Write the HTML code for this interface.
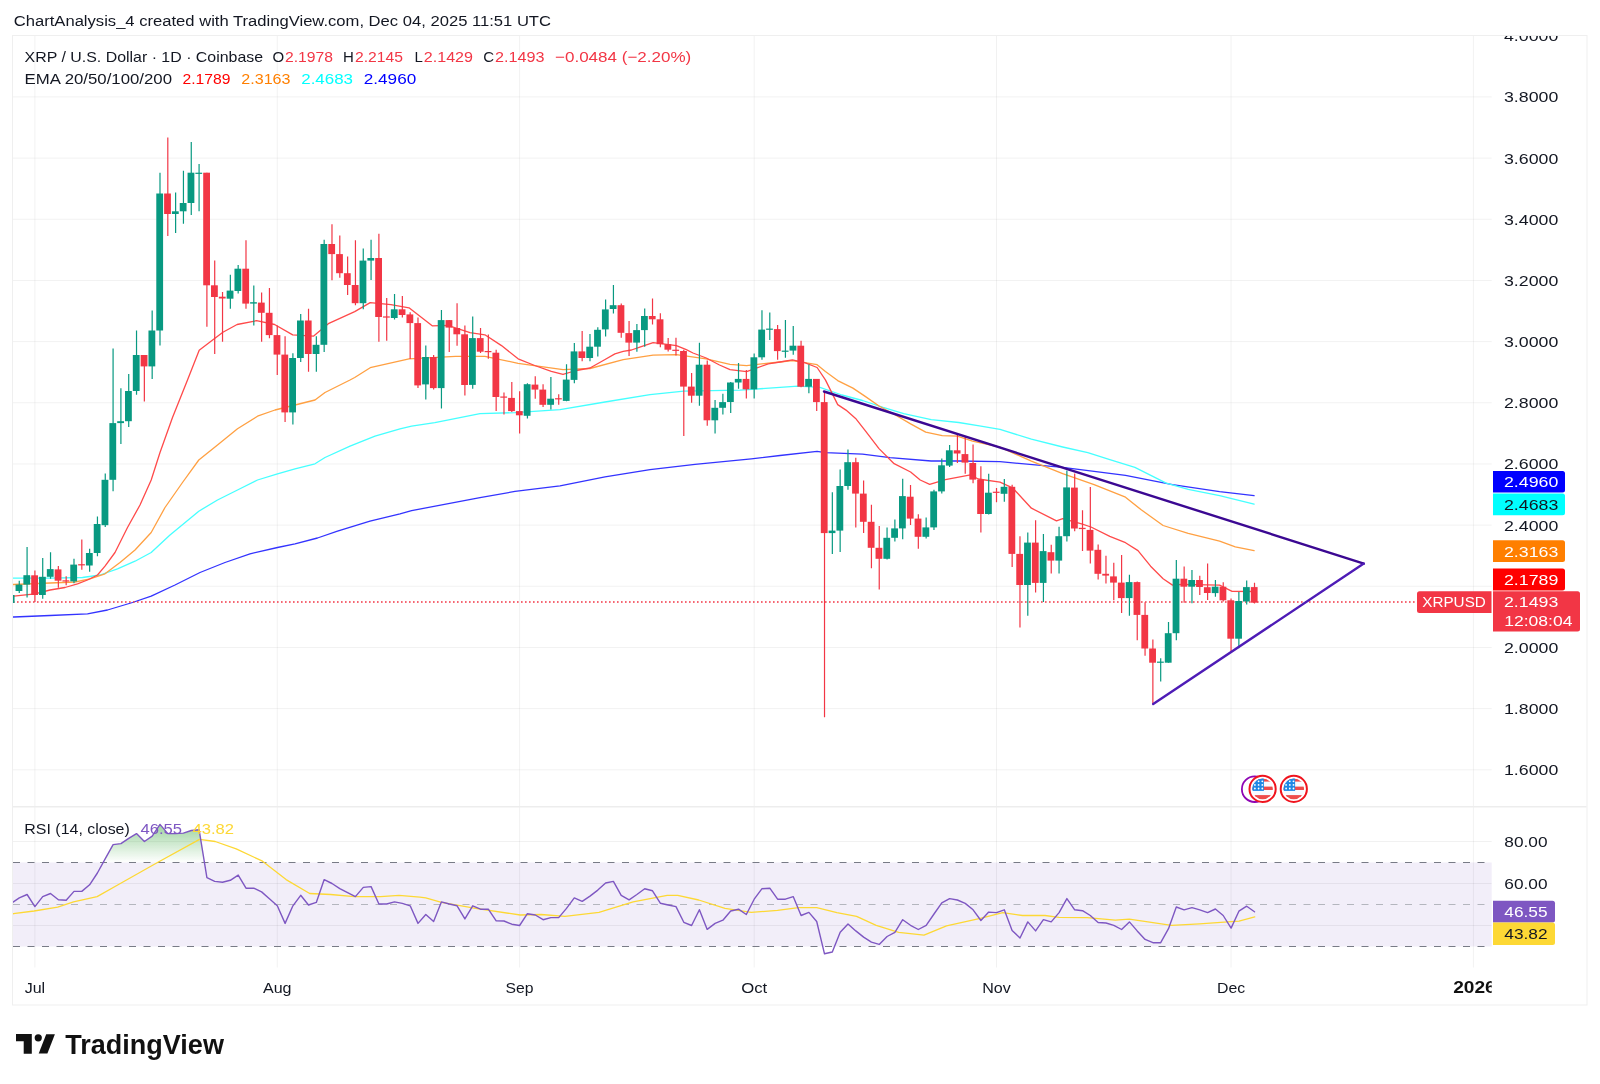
<!DOCTYPE html><html><head><meta charset="utf-8"><style>html,body{margin:0;padding:0;background:#fff;width:1600px;height:1084px;overflow:hidden}svg{display:block;font-family:"Liberation Sans",sans-serif;will-change:transform}</style></head><body>
<svg width="1600" height="1084" viewBox="0 0 1600 1084">
<defs>
<clipPath id="plot"><rect x="13" y="36" width="1478.7" height="770.7"/></clipPath>
<clipPath id="rsiclip"><rect x="13" y="806.7" width="1478.7" height="160.79999999999995"/></clipPath>
<clipPath id="axisclip"><rect x="1491.7" y="36" width="94.79999999999995" height="770.7"/></clipPath>
<clipPath id="timeclip"><rect x="13" y="967.5" width="1478.7" height="37.0"/></clipPath>
<clipPath id="ob"><rect x="13" y="806.7" width="1478.7" height="55.799999999999955"/></clipPath>
<linearGradient id="gfill" gradientUnits="userSpaceOnUse" x1="0" y1="824" x2="0" y2="862.5"><stop offset="0" stop-color="#4CAF50" stop-opacity="0.55"/><stop offset="1" stop-color="#4CAF50" stop-opacity="0"/></linearGradient>
</defs>
<text x="13.75" y="26.25" font-size="15.5" fill="#131722" text-anchor="start" font-weight="normal" textLength="537.25" lengthAdjust="spacingAndGlyphs" >ChartAnalysis_4 created with TradingView.com, Dec 04, 2025 11:51 UTC</text>
<rect x="12.5" y="35.5" width="1574.5" height="969.5" fill="none" stroke="#EFEFEF" stroke-width="1"/>
<rect x="13" y="862.50" width="1478.7" height="84.00" fill="#F2EEF9"/>
<g stroke="#000" stroke-opacity="0.055" stroke-width="1"><line x1="13" y1="769.80" x2="1491.7" y2="769.80"/><line x1="13" y1="708.63" x2="1491.7" y2="708.63"/><line x1="13" y1="647.46" x2="1491.7" y2="647.46"/><line x1="13" y1="586.29" x2="1491.7" y2="586.29"/><line x1="13" y1="525.12" x2="1491.7" y2="525.12"/><line x1="13" y1="463.95" x2="1491.7" y2="463.95"/><line x1="13" y1="402.78" x2="1491.7" y2="402.78"/><line x1="13" y1="341.61" x2="1491.7" y2="341.61"/><line x1="13" y1="280.44" x2="1491.7" y2="280.44"/><line x1="13" y1="219.27" x2="1491.7" y2="219.27"/><line x1="13" y1="158.10" x2="1491.7" y2="158.10"/><line x1="13" y1="96.93" x2="1491.7" y2="96.93"/><line x1="34.90" y1="36" x2="34.90" y2="967.5"/><line x1="277.26" y1="36" x2="277.26" y2="967.5"/><line x1="519.62" y1="36" x2="519.62" y2="967.5"/><line x1="754.16" y1="36" x2="754.16" y2="967.5"/><line x1="996.51" y1="36" x2="996.51" y2="967.5"/><line x1="1231.05" y1="36" x2="1231.05" y2="967.5"/><line x1="1473.41" y1="36" x2="1473.41" y2="967.5"/><line x1="13" y1="841.50" x2="1491.7" y2="841.50"/><line x1="13" y1="883.50" x2="1491.7" y2="883.50"/><line x1="13" y1="925.50" x2="1491.7" y2="925.50"/></g>
<line x1="13" y1="806.7" x2="1586.5" y2="806.7" stroke="#EDEDED" stroke-width="1.5"/>
<g clip-path="url(#plot)">
<polyline points="13.0,617.0 13.8,617.0 50.0,615.5 87.5,613.8 107.5,610.0 132.5,602.5 151.2,596.2 175.0,585.0 200.0,572.5 225.0,562.5 250.0,553.8 277.5,547.5 295.0,543.8 317.5,538.0 337.5,531.2 370.0,521.2 400.0,513.8 411.6,510.6 480.0,497.7 515.0,491.4 560.0,485.8 605.0,476.8 650.0,469.6 695.0,464.4 751.3,458.8 780.0,455.5 817.1,451.4 825.4,452.7 862.5,454.1 890.0,457.6 931.2,461.0 958.7,461.0 1000.0,461.7 1062.7,467.4 1125.5,475.3 1172.5,484.7 1219.6,491.6 1254.1,495.7" fill="none" stroke="#3333FF" stroke-width="1.3" stroke-linejoin="round" stroke-linecap="round"/>
<polyline points="13.0,578.2 13.8,578.2 50.0,578.2 82.5,577.5 100.0,575.0 117.5,568.8 135.0,561.2 151.2,552.5 170.0,535.0 198.8,511.2 217.5,500.0 237.5,490.0 257.5,480.0 277.5,473.8 295.0,468.8 315.0,463.8 325.0,457.5 350.0,446.2 375.0,436.2 400.0,428.8 411.6,426.1 434.8,422.7 480.0,413.7 515.0,412.6 560.0,409.7 605.0,402.0 650.0,394.6 683.8,391.2 740.0,390.1 780.0,387.4 797.9,386.1 819.9,387.4 841.9,395.0 862.5,400.5 883.1,407.4 903.7,413.6 931.2,419.7 958.7,422.5 979.4,425.9 1000.0,429.4 1031.4,439.2 1062.7,447.0 1087.8,452.7 1109.8,459.6 1134.9,467.4 1166.2,483.1 1188.2,489.4 1219.6,495.7 1254.1,504.1" fill="none" stroke="#45FFFF" stroke-width="1.3" stroke-linejoin="round" stroke-linecap="round"/>
<polyline points="13.0,584.5 13.8,584.5 50.0,583.0 75.0,582.0 90.0,578.8 105.0,573.8 120.0,562.5 135.0,550.0 151.2,532.5 165.0,507.5 182.5,482.5 198.8,460.0 217.5,445.0 237.5,428.8 257.5,416.2 275.0,410.0 295.0,405.0 315.0,400.0 325.0,392.5 350.0,380.0 354.7,377.5 370.2,367.7 409.0,358.9 455.5,356.3 484.9,356.4 518.1,363.3 563.0,369.6 590.0,368.5 623.2,359.7 653.1,355.2 676.4,354.7 706.2,358.8 730.0,364.3 746.6,365.6 768.2,363.1 780.0,362.0 792.4,360.6 804.7,362.7 817.1,364.7 825.4,371.6 837.7,380.6 852.9,388.1 865.2,396.4 879.0,406.0 894.1,414.2 910.6,423.9 925.7,432.1 942.2,435.6 957.4,436.2 972.5,441.1 1000.0,447.2 1031.4,461.2 1062.7,473.7 1094.1,484.7 1125.5,497.2 1141.2,509.8 1163.1,525.5 1188.2,533.3 1219.6,541.2 1235.3,546.8 1254.1,550.6" fill="none" stroke="#FFA042" stroke-width="1.3" stroke-linejoin="round" stroke-linecap="round"/>
<polyline points="13.0,596.2 13.8,596.2 35.0,593.8 50.0,590.0 65.0,587.5 77.5,583.8 87.5,580.0 97.5,575.0 105.0,566.2 115.0,552.5 127.5,527.5 140.0,505.0 151.2,480.0 160.0,452.5 172.5,417.5 187.5,380.0 199.2,350.2 210.0,341.9 222.9,332.3 237.1,324.5 256.5,320.7 274.6,324.5 292.7,334.9 313.4,336.2 328.9,323.3 354.7,311.6 370.2,302.6 390.9,304.7 409.0,307.8 432.2,325.8 447.7,325.3 470.0,332.6 484.9,334.8 501.5,345.6 518.1,358.8 534.7,365.5 551.3,371.3 563.0,374.3 576.2,370.5 590.0,368.0 603.3,360.5 614.9,353.9 623.2,351.4 631.5,350.0 639.8,347.2 653.1,342.7 663.1,343.9 676.4,345.6 686.3,349.7 693.0,353.0 706.2,358.0 719.5,365.0 730.0,369.6 746.6,371.7 768.2,363.9 780.0,362.0 792.4,359.9 804.7,362.7 817.1,367.5 825.4,379.9 837.7,404.6 846.0,410.1 855.6,418.4 865.2,430.7 879.0,448.6 894.1,463.7 910.6,472.0 920.2,480.0 929.7,484.3 945.4,479.6 970.5,474.9 978.2,479.0 1000.0,482.2 1012.5,487.8 1031.4,508.2 1056.5,520.8 1062.7,518.6 1081.6,523.9 1091.0,527.0 1109.8,536.4 1125.5,542.7 1138.0,550.6 1150.6,566.2 1163.1,578.8 1172.5,585.1 1181.9,584.4 1219.6,585.1 1232.1,591.3 1254.1,591.5" fill="none" stroke="#FF4A4A" stroke-width="1.3" stroke-linejoin="round" stroke-linecap="round"/>
<line x1="13" y1="602" x2="1417" y2="602" stroke="#F23645" stroke-width="1.5" stroke-dasharray="1.6 2.4"/>
<path d="M11.45 591.0V605.0M19.26 580.7V593.0M27.08 547.1V597.5M42.72 558.0V598.8M50.54 552.3V578.8M73.99 558.8V583.3M89.63 548.8V571.7M97.44 516.5V556.2M105.26 473.4V527.0M113.08 348.6V491.2M120.90 388.3V443.9M128.72 374.0V426.9M136.53 330.5V394.8M152.17 310.4V378.9M159.99 172.7V345.6M175.62 192.4V232.9M183.44 170.8V223.8M191.26 142.1V215.1M199.08 164.0V211.3M230.35 274.8V308.7M238.17 265.0V293.5M253.80 285.4V325.5M292.89 353.3V424.6M300.71 314.0V362.1M316.35 336.3V371.8M324.17 239.7V351.9M363.26 248.4V309.3M371.07 239.7V279.9M394.53 294.1V319.5M425.80 345.4V399.6M441.44 309.9V408.4M472.71 316.5V388.7M527.43 383.3V418.6M550.89 377.1V409.5M566.52 364.3V401.2M574.34 343.1V383.3M589.98 334.0V361.3M597.80 327.3V356.4M605.61 299.6V336.4M613.43 285.0V313.5M636.89 324.0V351.7M644.70 308.5V346.7M699.43 342.7V405.8M715.07 399.9V433.6M722.88 393.8V414.6M730.70 381.9V412.9M738.52 363.1V388.8M754.16 353.5V398.5M761.97 310.3V359.8M769.79 312.5V339.9M785.43 319.9V357.8M793.25 326.1V354.8M808.88 364.4V393.3M832.34 492.3V554.1M840.15 469.4V551.9M847.97 449.6V489.8M887.06 527.4V559.4M894.88 519.6V541.5M902.70 478.8V539.3M926.15 517.4V538.4M933.97 489.8V529.9M941.79 458.4V493.6M949.61 445.0V466.9M988.70 473.7V514.4M1004.33 479.0V501.7M1027.79 532.6V615.8M1043.42 534.1V602.0M1059.06 526.7V573.4M1066.88 470.5V541.5M1129.42 574.8V615.7M1160.69 658.3V681.5M1168.51 622.1V662.7M1176.33 560.1V640.2M1191.96 570.0V603.3M1215.42 579.9V596.7M1238.87 591.9V648.3M1246.69 580.4V604.4" stroke="#089981" stroke-width="1.2" fill="none"/>
<g fill="#089981"><rect x="7.75" y="595.0" width="6.8" height="8.0"/><rect x="15.56" y="584.6" width="6.8" height="6.4"/><rect x="23.38" y="575.2" width="6.8" height="9.4"/><rect x="39.02" y="576.8" width="6.8" height="18.2"/><rect x="46.84" y="569.1" width="6.8" height="7.7"/><rect x="70.29" y="564.6" width="6.8" height="16.8"/><rect x="85.93" y="553.0" width="6.8" height="12.5"/><rect x="93.74" y="524.0" width="6.8" height="29.0"/><rect x="101.56" y="479.8" width="6.8" height="45.4"/><rect x="109.38" y="423.1" width="6.8" height="56.7"/><rect x="117.20" y="421.2" width="6.8" height="1.9"/><rect x="125.02" y="391.0" width="6.8" height="30.2"/><rect x="132.83" y="355.0" width="6.8" height="36.0"/><rect x="148.47" y="330.5" width="6.8" height="35.9"/><rect x="156.29" y="193.5" width="6.8" height="137.0"/><rect x="171.92" y="211.3" width="6.8" height="2.7"/><rect x="179.74" y="203.0" width="6.8" height="8.3"/><rect x="187.56" y="172.7" width="6.8" height="30.3"/><rect x="195.38" y="172.7" width="6.8" height="1.2"/><rect x="226.65" y="290.6" width="6.8" height="8.1"/><rect x="234.47" y="268.7" width="6.8" height="22.3"/><rect x="250.10" y="302.2" width="6.8" height="1.4"/><rect x="289.19" y="358.0" width="6.8" height="54.4"/><rect x="297.01" y="320.5" width="6.8" height="37.5"/><rect x="312.65" y="344.8" width="6.8" height="9.2"/><rect x="320.47" y="244.0" width="6.8" height="100.8"/><rect x="359.56" y="260.6" width="6.8" height="42.6"/><rect x="367.37" y="258.0" width="6.8" height="2.6"/><rect x="390.83" y="309.3" width="6.8" height="8.7"/><rect x="422.10" y="357.0" width="6.8" height="27.4"/><rect x="437.74" y="320.1" width="6.8" height="68.0"/><rect x="469.01" y="338.1" width="6.8" height="46.8"/><rect x="523.73" y="384.2" width="6.8" height="31.6"/><rect x="547.19" y="398.7" width="6.8" height="6.1"/><rect x="562.82" y="379.6" width="6.8" height="21.3"/><rect x="570.64" y="351.4" width="6.8" height="28.5"/><rect x="586.28" y="346.7" width="6.8" height="11.3"/><rect x="594.10" y="329.8" width="6.8" height="16.9"/><rect x="601.91" y="309.4" width="6.8" height="20.0"/><rect x="609.73" y="305.2" width="6.8" height="3.8"/><rect x="633.19" y="330.1" width="6.8" height="12.5"/><rect x="641.00" y="316.0" width="6.8" height="14.1"/><rect x="695.73" y="364.7" width="6.8" height="31.0"/><rect x="711.37" y="407.8" width="6.8" height="12.5"/><rect x="719.18" y="402.1" width="6.8" height="5.7"/><rect x="727.00" y="382.5" width="6.8" height="19.5"/><rect x="734.82" y="378.9" width="6.8" height="3.6"/><rect x="750.46" y="357.3" width="6.8" height="32.0"/><rect x="758.27" y="329.6" width="6.8" height="27.7"/><rect x="766.09" y="328.6" width="6.8" height="1.2"/><rect x="781.73" y="350.6" width="6.8" height="1.2"/><rect x="789.55" y="345.7" width="6.8" height="4.9"/><rect x="805.18" y="378.9" width="6.8" height="7.8"/><rect x="828.64" y="530.6" width="6.8" height="2.5"/><rect x="836.45" y="486.0" width="6.8" height="44.6"/><rect x="844.27" y="462.2" width="6.8" height="23.8"/><rect x="883.36" y="537.8" width="6.8" height="21.0"/><rect x="891.18" y="528.4" width="6.8" height="9.4"/><rect x="899.00" y="496.1" width="6.8" height="32.3"/><rect x="922.45" y="527.4" width="6.8" height="9.4"/><rect x="930.27" y="491.4" width="6.8" height="36.0"/><rect x="938.09" y="465.3" width="6.8" height="26.1"/><rect x="945.91" y="450.3" width="6.8" height="15.3"/><rect x="985.00" y="492.7" width="6.8" height="21.3"/><rect x="1000.63" y="486.8" width="6.8" height="7.0"/><rect x="1024.09" y="542.6" width="6.8" height="42.4"/><rect x="1039.72" y="551.1" width="6.8" height="31.8"/><rect x="1055.36" y="536.2" width="6.8" height="24.4"/><rect x="1063.18" y="487.4" width="6.8" height="48.8"/><rect x="1125.72" y="582.1" width="6.8" height="16.0"/><rect x="1156.99" y="661.6" width="6.8" height="1.2"/><rect x="1164.81" y="633.2" width="6.8" height="29.5"/><rect x="1172.63" y="578.7" width="6.8" height="54.5"/><rect x="1188.26" y="580.0" width="6.8" height="6.7"/><rect x="1211.72" y="586.7" width="6.8" height="6.4"/><rect x="1235.17" y="601.0" width="6.8" height="37.7"/><rect x="1242.99" y="587.1" width="6.8" height="14.4"/></g>
<path d="M34.90 570.4V602.0M58.35 566.1V587.8M66.17 576.2V585.2M81.81 539.4V569.7M144.35 355.0V401.6M167.81 137.6V235.9M206.90 172.7V326.7M214.71 260.6V354.0M222.53 292.0V341.8M245.99 240.3V308.7M261.62 292.5V341.8M269.44 288.0V338.3M277.26 325.5V374.9M285.08 336.3V421.9M308.53 308.7V371.8M331.98 224.3V280.3M339.80 235.5V277.8M347.62 256.5V295.1M355.44 240.3V305.2M378.89 233.8V341.8M386.71 298.1V340.8M402.35 296.1V317.4M410.16 312.3V359.0M417.98 317.4V388.1M433.62 355.0V389.5M449.25 320.1V351.9M457.07 303.2V345.8M464.89 325.5V395.5M480.53 328.1V353.0M488.34 334.4V358.8M496.16 349.7V411.1M503.98 392.5V414.5M511.80 382.1V412.0M519.62 391.2V433.6M535.25 376.3V398.7M543.07 384.2V407.0M558.71 394.2V404.8M582.16 331.1V361.3M621.25 303.5V337.8M629.07 321.1V356.0M652.52 298.6V324.5M660.34 313.2V347.2M668.16 338.1V351.4M675.98 337.8V355.5M683.79 349.7V436.0M691.61 373.0V402.8M707.25 360.5V425.8M746.34 370.1V398.5M777.61 324.9V359.8M801.06 340.7V387.2M816.70 378.9V410.9M824.52 391.0V717.2M855.79 457.8V527.4M863.61 480.4V533.1M871.43 504.8V568.2M879.24 525.9V589.5M910.52 485.1V524.9M918.33 514.3V548.8M957.42 434.4V463.0M965.24 436.5V473.7M973.06 444.4V483.2M980.88 466.2V532.6M996.51 488.1V502.3M1012.15 484.7V567.0M1019.97 536.2V627.5M1035.60 520.3V592.5M1051.24 544.7V573.4M1074.69 473.6V531.2M1082.51 510.3V551.1M1090.33 487.0V563.5M1098.15 544.6V579.5M1105.97 555.7V583.4M1113.78 562.7V600.2M1121.60 555.0V613.1M1137.24 581.6V640.2M1145.06 602.2V655.7M1152.87 639.4V704.0M1184.15 566.6V602.7M1199.78 575.7V595.0M1207.60 563.5V600.0M1223.24 582.3V601.5M1231.05 598.6V651.9M1254.51 582.8V603.4" stroke="#F23645" stroke-width="1.2" fill="none"/>
<g fill="#F23645"><rect x="31.20" y="575.3" width="6.8" height="19.7"/><rect x="54.65" y="569.4" width="6.8" height="11.3"/><rect x="62.47" y="580.3" width="6.8" height="1.2"/><rect x="78.11" y="564.2" width="6.8" height="1.2"/><rect x="140.65" y="355.0" width="6.8" height="11.4"/><rect x="164.11" y="193.5" width="6.8" height="20.5"/><rect x="203.20" y="172.7" width="6.8" height="112.6"/><rect x="211.01" y="285.3" width="6.8" height="11.7"/><rect x="218.83" y="296.7" width="6.8" height="1.8"/><rect x="242.29" y="268.7" width="6.8" height="34.9"/><rect x="257.92" y="302.6" width="6.8" height="10.2"/><rect x="265.74" y="312.8" width="6.8" height="22.3"/><rect x="273.56" y="335.1" width="6.8" height="19.5"/><rect x="281.38" y="354.6" width="6.8" height="57.8"/><rect x="304.83" y="320.5" width="6.8" height="33.5"/><rect x="328.28" y="244.0" width="6.8" height="10.1"/><rect x="336.10" y="254.1" width="6.8" height="19.1"/><rect x="343.92" y="273.2" width="6.8" height="11.8"/><rect x="351.74" y="285.0" width="6.8" height="18.2"/><rect x="375.19" y="258.0" width="6.8" height="59.0"/><rect x="383.01" y="316.4" width="6.8" height="1.2"/><rect x="398.65" y="309.3" width="6.8" height="5.7"/><rect x="406.46" y="314.4" width="6.8" height="8.7"/><rect x="414.28" y="323.1" width="6.8" height="62.3"/><rect x="429.92" y="357.0" width="6.8" height="31.1"/><rect x="445.55" y="320.1" width="6.8" height="7.5"/><rect x="453.37" y="328.0" width="6.8" height="6.3"/><rect x="461.19" y="334.3" width="6.8" height="50.7"/><rect x="476.83" y="338.1" width="6.8" height="13.6"/><rect x="484.64" y="351.0" width="6.8" height="1.2"/><rect x="492.46" y="352.7" width="6.8" height="44.3"/><rect x="500.28" y="396.5" width="6.8" height="1.2"/><rect x="508.10" y="397.9" width="6.8" height="13.2"/><rect x="515.92" y="411.1" width="6.8" height="4.2"/><rect x="531.55" y="384.6" width="6.8" height="5.0"/><rect x="539.37" y="389.6" width="6.8" height="15.2"/><rect x="555.01" y="398.2" width="6.8" height="1.2"/><rect x="578.46" y="351.4" width="6.8" height="6.6"/><rect x="617.55" y="305.2" width="6.8" height="27.6"/><rect x="625.37" y="333.1" width="6.8" height="9.5"/><rect x="648.82" y="316.0" width="6.8" height="3.3"/><rect x="656.64" y="319.3" width="6.8" height="24.9"/><rect x="664.46" y="344.2" width="6.8" height="5.5"/><rect x="672.28" y="349.7" width="6.8" height="1.2"/><rect x="680.09" y="351.0" width="6.8" height="35.6"/><rect x="687.91" y="386.6" width="6.8" height="9.1"/><rect x="703.55" y="364.7" width="6.8" height="55.6"/><rect x="742.64" y="378.9" width="6.8" height="10.4"/><rect x="773.91" y="329.1" width="6.8" height="22.0"/><rect x="797.36" y="345.7" width="6.8" height="41.0"/><rect x="813.00" y="378.9" width="6.8" height="23.2"/><rect x="820.82" y="402.1" width="6.8" height="131.0"/><rect x="852.09" y="462.2" width="6.8" height="31.4"/><rect x="859.91" y="493.6" width="6.8" height="28.2"/><rect x="867.73" y="521.8" width="6.8" height="26.0"/><rect x="875.54" y="547.8" width="6.8" height="11.0"/><rect x="906.82" y="496.7" width="6.8" height="21.9"/><rect x="914.63" y="518.6" width="6.8" height="18.2"/><rect x="953.72" y="450.3" width="6.8" height="3.2"/><rect x="961.54" y="454.1" width="6.8" height="8.5"/><rect x="969.36" y="463.0" width="6.8" height="16.6"/><rect x="977.18" y="479.6" width="6.8" height="34.4"/><rect x="992.81" y="491.7" width="6.8" height="1.2"/><rect x="1008.45" y="486.8" width="6.8" height="67.1"/><rect x="1016.27" y="553.9" width="6.8" height="31.1"/><rect x="1031.90" y="542.6" width="6.8" height="40.3"/><rect x="1047.54" y="552.2" width="6.8" height="8.4"/><rect x="1070.99" y="487.6" width="6.8" height="40.9"/><rect x="1078.81" y="527.8" width="6.8" height="1.3"/><rect x="1086.63" y="529.9" width="6.8" height="20.7"/><rect x="1094.45" y="549.8" width="6.8" height="24.0"/><rect x="1102.27" y="573.8" width="6.8" height="1.8"/><rect x="1110.08" y="576.4" width="6.8" height="6.2"/><rect x="1117.90" y="582.6" width="6.8" height="15.5"/><rect x="1133.54" y="582.1" width="6.8" height="32.8"/><rect x="1141.36" y="614.9" width="6.8" height="33.6"/><rect x="1149.17" y="648.5" width="6.8" height="14.2"/><rect x="1180.45" y="578.7" width="6.8" height="8.0"/><rect x="1196.08" y="580.0" width="6.8" height="7.0"/><rect x="1203.90" y="587.2" width="6.8" height="5.8"/><rect x="1219.54" y="586.7" width="6.8" height="13.6"/><rect x="1227.35" y="600.3" width="6.8" height="38.4"/><rect x="1250.81" y="587.1" width="6.8" height="15.6"/></g>
<line x1="824" y1="391.5" x2="1363.8" y2="563.6" stroke="#3B0892" stroke-width="2.4" stroke-linecap="round"/>
<line x1="1153.2" y1="704" x2="1363.8" y2="563.6" stroke="#4E1CB6" stroke-width="2.4" stroke-linecap="round"/>
<circle cx="1254.7" cy="789.2" r="12.8" fill="none" stroke="#8E06B4" stroke-width="1.8"/>
<g><clipPath id="fc1262"><circle cx="1262.6" cy="788.9" r="10.3"/></clipPath><circle cx="1262.6" cy="788.9" r="13.1" fill="#fff" stroke="#F0141E" stroke-width="2"/><g clip-path="url(#fc1262)"><rect x="1251.6" y="777.9" width="22" height="22" fill="#F8FAFF"/><rect x="1251.6" y="778.4" width="22" height="3.2" fill="#EE4B4B"/><rect x="1251.6" y="786.6" width="22" height="3.4" fill="#EE4B4B"/><rect x="1251.6" y="795.1" width="22" height="5" fill="#EE4B4B"/><rect x="1251.6" y="777.9" width="12.3" height="13" fill="#1E88E5"/><circle cx="1254.90" cy="781.30" r="0.9" fill="#fff"/><circle cx="1258.60" cy="781.30" r="0.9" fill="#fff"/><circle cx="1262.30" cy="781.30" r="0.9" fill="#fff"/><circle cx="1254.90" cy="784.90" r="0.9" fill="#fff"/><circle cx="1258.60" cy="784.90" r="0.9" fill="#fff"/><circle cx="1262.30" cy="784.90" r="0.9" fill="#fff"/><circle cx="1254.90" cy="788.50" r="0.9" fill="#fff"/><circle cx="1258.60" cy="788.50" r="0.9" fill="#fff"/><circle cx="1262.30" cy="788.50" r="0.9" fill="#fff"/></g></g>
<g><clipPath id="fc1293"><circle cx="1293.8" cy="788.9" r="10.3"/></clipPath><circle cx="1293.8" cy="788.9" r="13.1" fill="#fff" stroke="#F0141E" stroke-width="2"/><g clip-path="url(#fc1293)"><rect x="1282.8" y="777.9" width="22" height="22" fill="#F8FAFF"/><rect x="1282.8" y="778.4" width="22" height="3.2" fill="#EE4B4B"/><rect x="1282.8" y="786.6" width="22" height="3.4" fill="#EE4B4B"/><rect x="1282.8" y="795.1" width="22" height="5" fill="#EE4B4B"/><rect x="1282.8" y="777.9" width="12.3" height="13" fill="#1E88E5"/><circle cx="1286.10" cy="781.30" r="0.9" fill="#fff"/><circle cx="1289.80" cy="781.30" r="0.9" fill="#fff"/><circle cx="1293.50" cy="781.30" r="0.9" fill="#fff"/><circle cx="1286.10" cy="784.90" r="0.9" fill="#fff"/><circle cx="1289.80" cy="784.90" r="0.9" fill="#fff"/><circle cx="1293.50" cy="784.90" r="0.9" fill="#fff"/><circle cx="1286.10" cy="788.50" r="0.9" fill="#fff"/><circle cx="1289.80" cy="788.50" r="0.9" fill="#fff"/><circle cx="1293.50" cy="788.50" r="0.9" fill="#fff"/></g></g>
</g>
<text x="24.60" y="61.75" font-size="15" fill="#131722" text-anchor="start" font-weight="normal" textLength="238.50" lengthAdjust="spacingAndGlyphs" >XRP / U.S. Dollar · 1D · Coinbase</text>
<text x="272.50" y="61.75" font-size="15" fill="#131722" text-anchor="start" font-weight="normal" >O</text>
<text x="285.00" y="61.75" font-size="15" fill="#F23645" text-anchor="start" font-weight="normal" textLength="48.00" lengthAdjust="spacingAndGlyphs" >2.1978</text>
<text x="343.00" y="61.75" font-size="15" fill="#131722" text-anchor="start" font-weight="normal" >H</text>
<text x="355.00" y="61.75" font-size="15" fill="#F23645" text-anchor="start" font-weight="normal" textLength="48.00" lengthAdjust="spacingAndGlyphs" >2.2145</text>
<text x="414.50" y="61.75" font-size="15" fill="#131722" text-anchor="start" font-weight="normal" >L</text>
<text x="423.75" y="61.75" font-size="15" fill="#F23645" text-anchor="start" font-weight="normal" textLength="49.25" lengthAdjust="spacingAndGlyphs" >2.1429</text>
<text x="483.25" y="61.75" font-size="15" fill="#131722" text-anchor="start" font-weight="normal" >C</text>
<text x="495.00" y="61.75" font-size="15" fill="#F23645" text-anchor="start" font-weight="normal" textLength="49.50" lengthAdjust="spacingAndGlyphs" >2.1493</text>
<text x="555.00" y="61.75" font-size="15" fill="#F23645" text-anchor="start" font-weight="normal" textLength="136.25" lengthAdjust="spacingAndGlyphs" >−0.0484 (−2.20%)</text>
<text x="24.60" y="84.25" font-size="15" fill="#131722" text-anchor="start" font-weight="normal" textLength="147.40" lengthAdjust="spacingAndGlyphs" >EMA 20/50/100/200</text>
<text x="182.50" y="84.25" font-size="15" fill="#FF0000" text-anchor="start" font-weight="normal" textLength="48.00" lengthAdjust="spacingAndGlyphs" >2.1789</text>
<text x="241.25" y="84.25" font-size="15" fill="#FF7F00" text-anchor="start" font-weight="normal" textLength="49.25" lengthAdjust="spacingAndGlyphs" >2.3163</text>
<text x="301.25" y="84.25" font-size="15" fill="#00FFFF" text-anchor="start" font-weight="normal" textLength="51.75" lengthAdjust="spacingAndGlyphs" >2.4683</text>
<text x="363.75" y="84.25" font-size="15" fill="#0000FF" text-anchor="start" font-weight="normal" textLength="52.50" lengthAdjust="spacingAndGlyphs" >2.4960</text>
<g clip-path="url(#axisclip)">
<text x="1504.00" y="775.20" font-size="15" fill="#131722" text-anchor="start" font-weight="normal" textLength="54.30" lengthAdjust="spacingAndGlyphs" >1.6000</text>
<text x="1504.00" y="714.03" font-size="15" fill="#131722" text-anchor="start" font-weight="normal" textLength="54.30" lengthAdjust="spacingAndGlyphs" >1.8000</text>
<text x="1504.00" y="652.86" font-size="15" fill="#131722" text-anchor="start" font-weight="normal" textLength="54.30" lengthAdjust="spacingAndGlyphs" >2.0000</text>
<text x="1504.00" y="530.52" font-size="15" fill="#131722" text-anchor="start" font-weight="normal" textLength="54.30" lengthAdjust="spacingAndGlyphs" >2.4000</text>
<text x="1504.00" y="469.35" font-size="15" fill="#131722" text-anchor="start" font-weight="normal" textLength="54.30" lengthAdjust="spacingAndGlyphs" >2.6000</text>
<text x="1504.00" y="408.18" font-size="15" fill="#131722" text-anchor="start" font-weight="normal" textLength="54.30" lengthAdjust="spacingAndGlyphs" >2.8000</text>
<text x="1504.00" y="347.01" font-size="15" fill="#131722" text-anchor="start" font-weight="normal" textLength="54.30" lengthAdjust="spacingAndGlyphs" >3.0000</text>
<text x="1504.00" y="285.84" font-size="15" fill="#131722" text-anchor="start" font-weight="normal" textLength="54.30" lengthAdjust="spacingAndGlyphs" >3.2000</text>
<text x="1504.00" y="224.67" font-size="15" fill="#131722" text-anchor="start" font-weight="normal" textLength="54.30" lengthAdjust="spacingAndGlyphs" >3.4000</text>
<text x="1504.00" y="163.50" font-size="15" fill="#131722" text-anchor="start" font-weight="normal" textLength="54.30" lengthAdjust="spacingAndGlyphs" >3.6000</text>
<text x="1504.00" y="102.33" font-size="15" fill="#131722" text-anchor="start" font-weight="normal" textLength="54.30" lengthAdjust="spacingAndGlyphs" >3.8000</text>
<text x="1504.00" y="41.16" font-size="15" fill="#131722" text-anchor="start" font-weight="normal" textLength="54.30" lengthAdjust="spacingAndGlyphs" >4.0000</text>
</g>
<path d="M1493 471H1562.5Q1565 471 1565 473.5V490.1Q1565 492.6 1562.5 492.6H1493Z" fill="#0000FF"/>
<text x="1504.00" y="487.20" font-size="15" fill="#FFFFFF" text-anchor="start" font-weight="normal" textLength="54.30" lengthAdjust="spacingAndGlyphs" >2.4960</text>
<path d="M1493 493.4H1562.5Q1565 493.4 1565 495.9V512.8Q1565 515.3 1562.5 515.3H1493Z" fill="#00FFFF"/>
<text x="1504.00" y="509.70" font-size="15" fill="#131722" text-anchor="start" font-weight="normal" textLength="54.30" lengthAdjust="spacingAndGlyphs" >2.4683</text>
<path d="M1493 540.2H1562.5Q1565 540.2 1565 542.7V559.5Q1565 562 1562.5 562H1493Z" fill="#FF7F00"/>
<text x="1504.00" y="556.60" font-size="15" fill="#FFFFFF" text-anchor="start" font-weight="normal" textLength="54.30" lengthAdjust="spacingAndGlyphs" >2.3163</text>
<path d="M1493 568.6H1562.5Q1565 568.6 1565 571.1V587.9Q1565 590.4 1562.5 590.4H1493Z" fill="#FF0000"/>
<text x="1504.00" y="585.00" font-size="15" fill="#FFFFFF" text-anchor="start" font-weight="normal" textLength="54.30" lengthAdjust="spacingAndGlyphs" >2.1789</text>
<path d="M1493 591.3H1577.5Q1580 591.3 1580 593.8V629.0Q1580 631.5 1577.5 631.5H1493Z" fill="#F23645"/>
<text x="1504.00" y="606.80" font-size="15" fill="#FFFFFF" text-anchor="start" font-weight="normal" textLength="54.30" lengthAdjust="spacingAndGlyphs" >2.1493</text>
<text x="1504.20" y="626.00" font-size="15" fill="#FFFFFF" text-anchor="start" font-weight="normal" textLength="68.20" lengthAdjust="spacingAndGlyphs" >12:08:04</text>
<path d="M1491.5 591.3H1419.5Q1417 591.3 1417 593.8V610.4Q1417 612.9 1419.5 612.9H1491.5Z" fill="#F23645"/>
<text x="1422.30" y="607.20" font-size="15" fill="#FFFFFF" text-anchor="start" font-weight="normal" textLength="63.50" lengthAdjust="spacingAndGlyphs" >XRPUSD</text>
<g clip-path="url(#rsiclip)">
<g clip-path="url(#ob)"><polygon points="11.4,862.5 11.4,903.2 19.3,897.9 27.1,894.5 34.9,906.6 42.7,896.6 50.5,893.5 58.4,899.8 66.2,900.3 74.0,891.4 81.8,891.4 89.6,884.8 97.4,873.0 105.3,858.6 113.1,844.6 120.9,843.6 128.7,838.3 136.5,833.6 144.4,841.5 152.2,836.2 160.0,824.4 167.8,833.6 175.6,833.6 183.4,833.1 191.3,830.5 199.1,829.7 206.9,877.7 214.7,881.4 222.5,882.2 230.3,880.3 238.2,875.1 246.0,888.2 253.8,888.2 261.6,891.9 269.4,898.7 277.3,905.8 285.1,923.4 292.9,905.8 300.7,895.3 308.5,905.0 316.3,902.4 324.2,879.6 332.0,883.5 339.8,888.7 347.6,892.7 355.4,896.6 363.3,887.4 371.1,886.6 378.9,904.0 386.7,904.0 394.5,901.9 402.3,903.4 410.2,905.8 418.0,923.4 425.8,914.5 433.6,921.5 441.4,901.9 449.3,904.0 457.1,905.8 464.9,918.9 472.7,905.8 480.5,909.2 488.3,909.2 496.2,920.8 504.0,921.0 511.8,924.2 519.6,925.5 527.4,913.7 535.3,915.0 543.1,919.7 550.9,917.6 558.7,917.6 566.5,908.4 574.3,897.9 582.2,901.3 590.0,896.1 597.8,890.1 605.6,883.0 613.4,881.4 621.2,895.3 629.1,899.8 636.9,894.5 644.7,888.7 652.5,890.8 660.3,903.2 668.2,905.0 676.0,906.6 683.8,922.3 691.6,925.5 699.4,909.7 707.2,929.4 715.1,923.4 722.9,920.2 730.7,911.0 738.5,909.2 746.3,914.5 754.2,899.2 762.0,888.7 769.8,888.2 777.6,899.2 785.4,899.2 793.2,896.6 801.1,915.5 808.9,912.4 816.7,921.5 824.5,953.8 832.3,952.0 840.2,932.3 848.0,923.9 855.8,930.9 863.6,937.1 871.4,942.2 879.2,944.4 887.1,936.5 894.9,932.3 902.7,919.7 910.5,925.3 918.3,929.5 926.2,925.3 934.0,914.0 941.8,902.8 949.6,898.6 957.4,900.0 965.2,903.4 973.1,909.8 980.9,920.5 988.7,912.1 996.5,912.6 1004.3,909.8 1012.1,930.4 1020.0,938.0 1027.8,921.9 1035.6,930.9 1043.4,919.7 1051.2,921.9 1059.1,912.6 1066.9,898.6 1074.7,909.8 1082.5,910.7 1090.3,915.5 1098.1,922.5 1106.0,923.0 1113.8,925.3 1121.6,929.5 1129.4,921.9 1137.2,930.9 1145.1,939.4 1152.9,942.7 1160.7,942.7 1168.5,928.7 1176.3,907.0 1184.1,909.8 1192.0,907.6 1199.8,909.8 1207.6,912.6 1215.4,909.0 1223.2,915.5 1231.1,928.1 1238.9,911.2 1246.7,906.2 1254.5,911.8 1254.5,862.5" fill="url(#gfill)"/></g>
<line x1="13" y1="862.50" x2="1491.7" y2="862.50" stroke="#787B86" stroke-width="1.2" stroke-dasharray="7 7.5"/>
<line x1="13" y1="904.50" x2="1491.7" y2="904.50" stroke="#B4B6BE" stroke-width="1.2" stroke-dasharray="7 7.5"/>
<line x1="13" y1="946.50" x2="1491.7" y2="946.50" stroke="#787B86" stroke-width="1.2" stroke-dasharray="7 7.5"/>
<polyline points="13.0,913.9 13.4,913.7 34.1,911.0 57.7,907.1 73.5,901.9 97.1,896.6 118.1,884.8 157.5,862.5 199.5,839.4 215.2,841.5 236.2,848.8 262.5,861.2 286.1,879.6 309.7,893.5 330.7,894.5 354.3,896.6 380.6,896.6 399.0,895.3 419.9,897.1 425.7,897.9 441.5,902.4 475.6,908.4 520.2,915.0 541.2,914.5 564.9,916.3 599.0,912.4 633.1,901.9 667.2,895.3 677.7,895.3 698.7,900.0 725.0,908.4 751.2,912.4 777.5,910.3 798.5,907.6 816.8,907.6 836.9,912.6 856.6,916.3 876.2,925.3 898.7,932.3 924.0,935.1 946.5,925.9 980.3,918.3 1002.8,912.6 1022.5,915.5 1045.0,915.5 1059.0,917.4 1087.2,917.7 1115.3,920.2 1129.3,919.1 1171.5,925.3 1199.6,923.9 1227.8,921.9 1239.0,921.1 1254.8,916.9" fill="none" stroke="#FDD835" stroke-width="1.3" stroke-linejoin="round" stroke-linecap="round"/>
<polyline points="11.4,903.2 19.3,897.9 27.1,894.5 34.9,906.6 42.7,896.6 50.5,893.5 58.4,899.8 66.2,900.3 74.0,891.4 81.8,891.4 89.6,884.8 97.4,873.0 105.3,858.6 113.1,844.6 120.9,843.6 128.7,838.3 136.5,833.6 144.4,841.5 152.2,836.2 160.0,824.4 167.8,833.6 175.6,833.6 183.4,833.1 191.3,830.5 199.1,829.7 206.9,877.7 214.7,881.4 222.5,882.2 230.3,880.3 238.2,875.1 246.0,888.2 253.8,888.2 261.6,891.9 269.4,898.7 277.3,905.8 285.1,923.4 292.9,905.8 300.7,895.3 308.5,905.0 316.3,902.4 324.2,879.6 332.0,883.5 339.8,888.7 347.6,892.7 355.4,896.6 363.3,887.4 371.1,886.6 378.9,904.0 386.7,904.0 394.5,901.9 402.3,903.4 410.2,905.8 418.0,923.4 425.8,914.5 433.6,921.5 441.4,901.9 449.3,904.0 457.1,905.8 464.9,918.9 472.7,905.8 480.5,909.2 488.3,909.2 496.2,920.8 504.0,921.0 511.8,924.2 519.6,925.5 527.4,913.7 535.3,915.0 543.1,919.7 550.9,917.6 558.7,917.6 566.5,908.4 574.3,897.9 582.2,901.3 590.0,896.1 597.8,890.1 605.6,883.0 613.4,881.4 621.2,895.3 629.1,899.8 636.9,894.5 644.7,888.7 652.5,890.8 660.3,903.2 668.2,905.0 676.0,906.6 683.8,922.3 691.6,925.5 699.4,909.7 707.2,929.4 715.1,923.4 722.9,920.2 730.7,911.0 738.5,909.2 746.3,914.5 754.2,899.2 762.0,888.7 769.8,888.2 777.6,899.2 785.4,899.2 793.2,896.6 801.1,915.5 808.9,912.4 816.7,921.5 824.5,953.8 832.3,952.0 840.2,932.3 848.0,923.9 855.8,930.9 863.6,937.1 871.4,942.2 879.2,944.4 887.1,936.5 894.9,932.3 902.7,919.7 910.5,925.3 918.3,929.5 926.2,925.3 934.0,914.0 941.8,902.8 949.6,898.6 957.4,900.0 965.2,903.4 973.1,909.8 980.9,920.5 988.7,912.1 996.5,912.6 1004.3,909.8 1012.1,930.4 1020.0,938.0 1027.8,921.9 1035.6,930.9 1043.4,919.7 1051.2,921.9 1059.1,912.6 1066.9,898.6 1074.7,909.8 1082.5,910.7 1090.3,915.5 1098.1,922.5 1106.0,923.0 1113.8,925.3 1121.6,929.5 1129.4,921.9 1137.2,930.9 1145.1,939.4 1152.9,942.7 1160.7,942.7 1168.5,928.7 1176.3,907.0 1184.1,909.8 1192.0,907.6 1199.8,909.8 1207.6,912.6 1215.4,909.0 1223.2,915.5 1231.1,928.1 1238.9,911.2 1246.7,906.2 1254.5,911.8" fill="none" stroke="#7E57C2" stroke-width="1.4" stroke-linejoin="round" stroke-linecap="round"/>
</g>
<text x="24.30" y="833.50" font-size="15" fill="#131722" text-anchor="start" font-weight="normal" textLength="105.50" lengthAdjust="spacingAndGlyphs" >RSI (14, close)</text>
<text x="140.50" y="833.50" font-size="15" fill="#7E57C2" text-anchor="start" font-weight="normal" textLength="41.50" lengthAdjust="spacingAndGlyphs" >46.55</text>
<text x="192.50" y="833.50" font-size="15" fill="#FDD835" text-anchor="start" font-weight="normal" textLength="41.50" lengthAdjust="spacingAndGlyphs" >43.82</text>
<text x="1504.30" y="847.00" font-size="15" fill="#131722" text-anchor="start" font-weight="normal" textLength="43.20" lengthAdjust="spacingAndGlyphs" >80.00</text>
<text x="1504.30" y="889.00" font-size="15" fill="#131722" text-anchor="start" font-weight="normal" textLength="43.20" lengthAdjust="spacingAndGlyphs" >60.00</text>
<path d="M1493 900.7H1552.5Q1555 900.7 1555 903.2V920.1Q1555 922.6 1552.5 922.6H1493Z" fill="#7E57C2"/>
<text x="1504.30" y="917.20" font-size="15" fill="#FFFFFF" text-anchor="start" font-weight="normal" textLength="43.20" lengthAdjust="spacingAndGlyphs" >46.55</text>
<path d="M1493 922.6H1552.5Q1555 922.6 1555 925.1V942.4Q1555 944.9 1552.5 944.9H1493Z" fill="#FDD835"/>
<text x="1504.30" y="939.30" font-size="15" fill="#131722" text-anchor="start" font-weight="normal" textLength="43.20" lengthAdjust="spacingAndGlyphs" >43.82</text>
<text x="34.90" y="993.00" font-size="15" fill="#131722" text-anchor="middle" font-weight="normal" textLength="20.50" lengthAdjust="spacingAndGlyphs" >Jul</text>
<text x="277.26" y="993.00" font-size="15" fill="#131722" text-anchor="middle" font-weight="normal" textLength="28.60" lengthAdjust="spacingAndGlyphs" >Aug</text>
<text x="519.62" y="993.00" font-size="15" fill="#131722" text-anchor="middle" font-weight="normal" textLength="28.00" lengthAdjust="spacingAndGlyphs" >Sep</text>
<text x="754.16" y="993.00" font-size="15" fill="#131722" text-anchor="middle" font-weight="normal" textLength="26.00" lengthAdjust="spacingAndGlyphs" >Oct</text>
<text x="996.51" y="993.00" font-size="15" fill="#131722" text-anchor="middle" font-weight="normal" textLength="28.60" lengthAdjust="spacingAndGlyphs" >Nov</text>
<text x="1231.05" y="993.00" font-size="15" fill="#131722" text-anchor="middle" font-weight="normal" textLength="28.20" lengthAdjust="spacingAndGlyphs" >Dec</text>
<g clip-path="url(#timeclip)">
<text x="1474.41" y="993.20" font-size="16" fill="#111111" text-anchor="middle" font-weight="bold" textLength="42.50" lengthAdjust="spacingAndGlyphs" >2026</text>
</g>
<g fill="#111111">
<path d="M16 1034.1H31.8V1053.8H23.7V1041.3H16Z"/>
<circle cx="38.25" cy="1037.8" r="3.6"/>
<path d="M46.2 1034.2H54.9L47.4 1053.5H38.7Z"/>
</g>
<text x="65.30" y="1053.60" font-size="27.6" fill="#111111" text-anchor="start" font-weight="bold" textLength="158.60" lengthAdjust="spacingAndGlyphs" >TradingView</text>
</svg></body></html>
